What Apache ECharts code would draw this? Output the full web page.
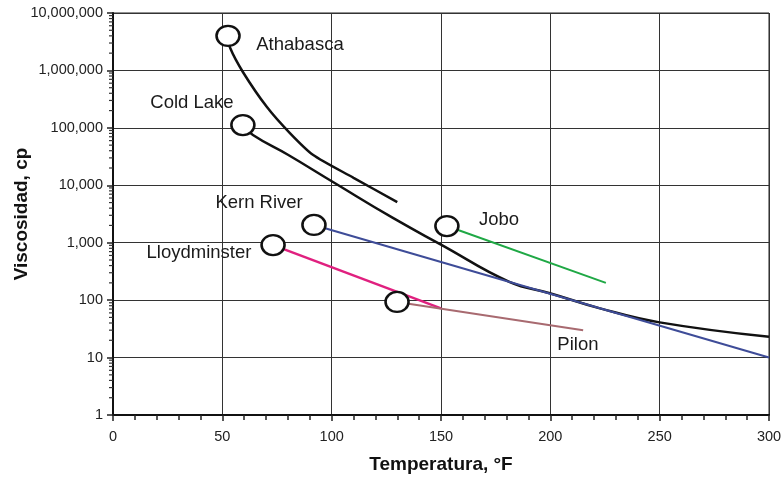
<!DOCTYPE html>
<html>
<head>
<meta charset="utf-8">
<script src="https://cdn.jsdelivr.net/npm/echarts@6/dist/echarts.min.js"></script>
<style>html,body{margin:0;padding:0;background:#fff}#c{width:783px;height:478px}</style>
</head>
<body>
<div id="c"></div>
<script>
// Data: [temperature °F, viscosity cp]
const athabasca = [[52.6,4.0e6],[53.5,2.5e6],[59.4,9.4e5],[70.4,2.3e5],[80.9,8.1e4],[91.4,3.4e4],[110,1.35e4],[130,5100]];
const coldLake = [[59.4,1.12e5],[64,7.5e4],[80,3.4e4],[100.6,1.14e4],[128,2700],[150.4,910],[181.5,206],[199.8,132],[222.7,72],[250,41],[300,23]];
const kernRiver = [[91.9,2040],[300,10]];
const jobo = [[152.7,1950],[225.4,200]];
const lloydminster = [[73.2,910],[150,72]];
const pilon = [[129.9,93],[215,30]];
const circles = [[52.6,4.0e6],[59.4,1.12e5],[91.9,2040],[152.7,1950],[73.2,910],[129.9,93]];
const labels = [[85.5,2.77e6,'Athabasca'],[36.1,2.7e5,'Cold Lake'],[66.8,4900,'Kern River'],[39.3,660,'Lloydminster'],[176.5,2480,'Jobo'],[212.6,16.4,'Pilon']];
const xTicks = [0,50,100,150,200,250,300];
const yMinorTicks = [];
for (let k = 0; k < 7; k++) for (let m = 2; m <= 9; m++) yMinorTicks.push([0, m * Math.pow(10, k)]);

const font = '"Liberation Sans", Arial, sans-serif';
const chart = echarts.init(document.getElementById('c'));
function lineSeries(data, color, width, smooth) {
  return { type: 'line', data: data, symbol: 'none', smooth: smooth || false,
    lineStyle: { color: color, width: width }, z: 3, animation: false };
}
chart.setOption({
  animation: false,
  grid: { left: 113, right: 14, top: 13, bottom: 63, containLabel: false, outerBoundsMode: 'none',
    show: true, borderColor: '#222', borderWidth: 1 },
  xAxis: {
    type: 'value', min: 0, max: 300, interval: 50,
    name: 'Temperatura, °F', nameLocation: 'middle', nameGap: 40,
    nameTextStyle: { fontFamily: font, fontSize: 19, fontWeight: 'bold', color: '#111' },
    axisLine: { show: true, lineStyle: { color: '#111', width: 2 } },
    axisTick: { show: true, inside: false, length: 6, lineStyle: { color: '#222', width: 1.5 } },
    minorTick: { show: true, splitNumber: 5, length: 5, lineStyle: { color: '#222', width: 1.5 } },
    axisLabel: { fontFamily: font, fontSize: 14.5, color: '#222', margin: 14,
      formatter: v => xTicks.includes(v) ? String(v) : '' },
    splitLine: { show: true, lineStyle: { color: '#333', width: 1 } }
  },
  yAxis: {
    type: 'log', logBase: 10, min: 1, max: 1e7, interval: 1,
    name: 'Viscosidad, cp', nameLocation: 'middle', nameGap: 82, nameMoveOverlap: false,
    nameTextStyle: { fontFamily: font, fontSize: 19, fontWeight: 'bold', color: '#111' },
    axisLine: { show: true, lineStyle: { color: '#111', width: 2 } },
    axisTick: { show: true, inside: false, length: 6, lineStyle: { color: '#222', width: 1.5 } },
    axisLabel: { fontFamily: font, fontSize: 14.5, color: '#222', margin: 10,
      formatter: v => Math.round(v).toLocaleString('en-US') },
    splitLine: { show: true, lineStyle: { color: '#333', width: 1 } }
  },
  series: [
    {
      type: 'custom', data: yMinorTicks, clip: false, silent: true, z: 1,
      renderItem: function (params, api) {
        const p = api.coord([api.value(0), api.value(1)]);
        return { type: 'line', shape: { x1: p[0] - 4, y1: p[1], x2: p[0], y2: p[1] },
          style: { stroke: '#333', lineWidth: 1.2 } };
      }
    },
    lineSeries(athabasca, '#111', 2.5, 0.25),
    lineSeries(coldLake, '#111', 2.5, 0.45),
    lineSeries(kernRiver, '#3e4c98', 2, false),
    lineSeries(jobo, '#1fa845', 2, false),
    lineSeries(lloydminster, '#e0207f', 2.5, false),
    lineSeries(pilon, '#a86a70', 2, false),
    {
      type: 'scatter', data: circles, symbol: 'circle', symbolSize: [23, 20], z: 5,
      itemStyle: { color: '#fff', borderColor: '#111', borderWidth: 2.4, opacity: 1 }
    },
    {
      type: 'scatter', data: labels, symbolSize: 0, z: 6,
      itemStyle: { opacity: 1 },
      label: { show: true, position: 'inside', formatter: p => p.data[2],
        fontFamily: font, fontSize: 18.5, color: '#1a1a1a' }
    }
  ]
});
</script>
</body>
</html>
